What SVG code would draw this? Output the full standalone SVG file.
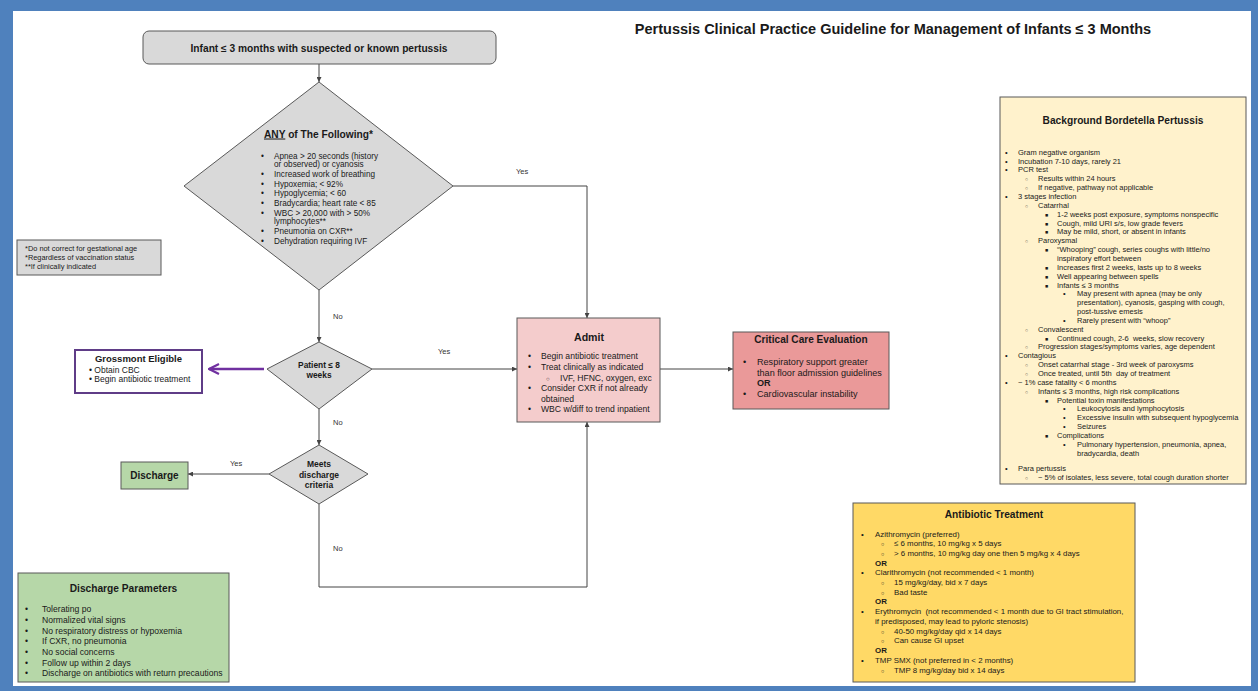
<svg xmlns="http://www.w3.org/2000/svg" width="1258" height="691" viewBox="0 0 1258 691">
<style>
text{font-family:"Liberation Sans",Arial,"DejaVu Sans",sans-serif;fill:#1a1a1a}
.b{font-weight:bold}
.c{text-anchor:middle}
.node{stroke:#595959;stroke-width:1}
.gray{fill:#d9d9d9}
.conn{fill:none;stroke:#444;stroke-width:1}
.lbl{font-size:7.5px;fill:#333}
.t8{font-size:8.2px}
.t86{font-size:8.6px}
.t75{font-size:7.5px}
.t79{font-size:7.9px}
.t91{font-size:9.1px}
.t74{font-size:7.4px}
.h{font-size:10.2px;font-weight:bold}
</style>
<defs>
<marker id="ah" viewBox="0 0 10 10" refX="10" refY="5" markerWidth="5" markerHeight="5" orient="auto" markerUnits="userSpaceOnUse"><path d="M0,0 L10,5 L0,10 z" fill="#444"/></marker>
<marker id="ap" viewBox="0 0 12 12" refX="11" refY="6" markerWidth="12" markerHeight="12" orient="auto" markerUnits="userSpaceOnUse"><path d="M1,1 L11,6 L1,11" fill="none" stroke="#7030a0" stroke-width="2.2"/></marker>
</defs>
<rect x="0" y="0" width="1258" height="691" fill="#4f81bd"/>
<rect x="13" y="11" width="1238" height="675" fill="#ffffff"/>

<text id="title" class="b c" x="893" y="34" font-size="14.5px">Pertussis Clinical Practice Guideline for Management of Infants ≤ 3 Months</text>

<g id="connectors">
<path class="conn" d="M319,64 V82" marker-end="url(#ah)"/>
<path class="conn" d="M453,186 H587 V318" marker-end="url(#ah)"/>
<path class="conn" d="M319,290 V342" marker-end="url(#ah)"/>
<path class="conn" d="M372,369 H517" marker-end="url(#ah)"/>
<path class="conn" d="M660,369 H733" marker-end="url(#ah)"/>
<path d="M264,369 H209" fill="none" stroke="#7030a0" stroke-width="2.5" marker-end="url(#ap)"/>
<path class="conn" d="M319,409 V445" marker-end="url(#ah)"/>
<path class="conn" d="M269,474 H188" marker-end="url(#ah)"/>
<path class="conn" d="M319,504 V587 H587 V422" marker-end="url(#ah)"/>
<text class="lbl" x="516" y="174">Yes</text>
<text class="lbl" x="333" y="319">No</text>
<text class="lbl" x="438" y="354">Yes</text>
<text class="lbl" x="333" y="425">No</text>
<text class="lbl" x="230" y="466">Yes</text>
<text class="lbl" x="333" y="551">No</text>
</g>

<g id="start">
<rect class="node gray" x="143" y="31" width="353" height="33" rx="6"/>
<text class="b c" x="319" y="51.5" font-size="10.2px">Infant ≤ 3 months with suspected or known pertussis</text>
</g>

<g id="any">
<path class="node gray" d="M319,82 L453,186 L319,290 L184,186 Z"/>
<text class="h c" x="318.5" y="137.5"><tspan text-decoration="underline">ANY</tspan> of The Following*</text>
<g class="t8">
<text x="261" y="158.5">•</text><text x="274" y="158.5">Apnea &gt; 20 seconds (history</text>
<text x="274" y="167">or observed) or cyanosis</text>
<text x="261" y="177">•</text><text x="274" y="177">Increased work of breathing</text>
<text x="261" y="186.5">•</text><text x="274" y="186.5">Hypoxemia; &lt; 92%</text>
<text x="261" y="196">•</text><text x="274" y="196">Hypoglycemia; &lt; 60</text>
<text x="261" y="206">•</text><text x="274" y="206">Bradycardia; heart rate &lt; 85</text>
<text x="261" y="215.5">•</text><text x="274" y="215.5">WBC &gt; 20,000 with &gt; 50%</text>
<text x="274" y="224">lymphocytes**</text>
<text x="261" y="234">•</text><text x="274" y="234">Pneumonia on CXR**</text>
<text x="261" y="243.5">•</text><text x="274" y="243.5">Dehydration requiring IVF</text>
</g>
</g>

<g id="notes">
<rect class="node gray" x="17" y="240" width="144" height="35"/>
<g class="t74">
<text x="25" y="251">*Do not correct for gestational age</text>
<text x="25" y="260">*Regardless of vaccination status</text>
<text x="25" y="268.5">**If clinically indicated</text>
</g>
</g>

<g id="patient">
<path class="node gray" d="M319,342 L372,369 L319,409 L267,369 Z"/>
<text class="b c" x="319" y="368" font-size="8.4px">Patient ≤ 8</text>
<text class="b c" x="319" y="377.5" font-size="8.4px">weeks</text>
</g>

<g id="grossmont">
<rect x="75" y="350" width="127" height="43" fill="#fff" stroke="#5f3c87" stroke-width="2"/>
<text class="b c" x="138.5" y="362" font-size="9.5px">Grossmont Eligible</text>
<text x="89" y="372.5" font-size="8.5px">• Obtain CBC</text>
<text x="89" y="382" font-size="8.5px">• Begin antibiotic treatment</text>
</g>

<g id="admit">
<rect class="node" x="517" y="318" width="143" height="104" fill="#f4cccc"/>
<text class="b c" x="589" y="341" font-size="10.6px">Admit</text>
<g class="t86">
<text x="528" y="358.7">•</text><text x="541" y="358.7">Begin antibiotic treatment</text>
<text x="528" y="369.7">•</text><text x="541" y="369.7">Treat clinically as indicated</text>
<text x="546" y="380.7" font-size="6px">○</text><text x="560" y="380.7">IVF, HFNC, oxygen, exc</text>
<text x="528" y="391.3">•</text><text x="541" y="391.3">Consider CXR if not already</text>
<text x="541" y="401.7">obtained</text>
<text x="528" y="412">•</text><text x="541" y="412">WBC w/diff to trend inpatient</text>
</g>
</g>

<g id="critical">
<rect class="node" x="733" y="332" width="156" height="77" fill="#ea9999"/>
<text class="b c" x="811" y="343" font-size="10.1px">Critical Care Evaluation</text>
<g class="t91">
<text x="743" y="365.3">•</text><text x="757" y="365.3">Respiratory support greater</text>
<text x="757" y="376.3">than floor admission guidelines</text>
<text class="b" x="757" y="386.3">OR</text>
<text x="743" y="397">•</text><text x="757" y="397">Cardiovascular instability</text>
</g>
</g>

<g id="meets">
<path class="node gray" d="M319,445 L368,474 L319,504 L269,474 Z"/>
<text class="b c" x="319" y="467" font-size="8.5px">Meets</text>
<text class="b c" x="319" y="477.5" font-size="8.5px">discharge</text>
<text class="b c" x="319" y="488" font-size="8.5px">criteria</text>
</g>

<g id="discharge">
<rect class="node" x="121" y="462" width="67" height="27" fill="#b6d7a8" stroke="#444"/>
<text class="b c" x="154.5" y="479" font-size="10px">Discharge</text>
</g>

<g id="params">
<rect class="node" x="18" y="573" width="211" height="109" fill="#b6d7a8"/>
<text class="h c" x="123.5" y="592">Discharge Parameters</text>
<g class="t86">
<text x="25" y="612">•</text><text x="42" y="612">Tolerating po</text>
<text x="25" y="622.5">•</text><text x="42" y="622.5">Normalized vital signs</text>
<text x="25" y="633.5">•</text><text x="42" y="633.5">No respiratory distress or hypoxemia</text>
<text x="25" y="644">•</text><text x="42" y="644">If CXR, no pneumonia</text>
<text x="25" y="655">•</text><text x="42" y="655">No social concerns</text>
<text x="25" y="665.5">•</text><text x="42" y="665.5">Follow up within 2 days</text>
<text x="25" y="676">•</text><text x="42" y="676">Discharge on antibiotics with return precautions</text>
</g>
</g>

<g id="antibiotic">
<rect class="node" x="853" y="503" width="282" height="179" fill="#ffd966"/>
<text class="h c" x="994" y="518">Antibiotic Treatment</text>
<g class="t79">
<text x="861" y="536.7">•</text><text x="875" y="536.7">Azithromycin (preferred)</text>
<text x="881" y="546.3" font-size="5.5px">○</text><text x="894" y="546.3">≤ 6 months, 10 mg/kg x 5 days</text>
<text x="881" y="555.7" font-size="5.5px">○</text><text x="894" y="555.7">&gt; 6 months, 10 mg/kg day one then 5 mg/kg x 4 days</text>
<text class="b" x="875" y="565.7">OR</text>
<text x="861" y="575.3">•</text><text x="875" y="575.3">Clarithromycin (not recommended &lt; 1 month)</text>
<text x="881" y="585" font-size="5.5px">○</text><text x="894" y="585">15 mg/kg/day, bid x 7 days</text>
<text x="881" y="594.7" font-size="5.5px">○</text><text x="894" y="594.7">Bad taste</text>
<text class="b" x="875" y="604.3">OR</text>
<text x="861" y="614.3">•</text><text x="875" y="614.3" xml:space="preserve">Erythromycin  (not recommended &lt; 1 month due to GI tract stimulation,</text>
<text x="875" y="624.3">if predisposed, may lead to pyloric stenosis)</text>
<text x="881" y="633.7" font-size="5.5px">○</text><text x="894" y="633.7">40-50 mg/kg/day qid x 14 days</text>
<text x="881" y="643.3" font-size="5.5px">○</text><text x="894" y="643.3">Can cause GI upset</text>
<text class="b" x="875" y="653.3">OR</text>
<text x="861" y="663">•</text><text x="875" y="663">TMP SMX (not preferred in &lt; 2 months)</text>
<text x="881" y="672.7" font-size="5.5px">○</text><text x="894" y="672.7">TMP 8 mg/kg/day bid x 14 days</text>
</g>
</g>

<g id="background">
<rect class="node" x="1000" y="97" width="246" height="387" fill="#fff2cc"/>
<text class="h c" x="1123" y="124">Background Bordetella Pertussis</text>
<g class="t75">
<text x="1005" y="154.7">•</text><text x="1018" y="154.7">Gram negative organism</text>
<text x="1005" y="163.6">•</text><text x="1018" y="163.6">Incubation 7-10 days, rarely 21</text>
<text x="1005" y="172.4">•</text><text x="1018" y="172.4">PCR test</text>
<text x="1025" y="181.3" font-size="5.2px">○</text><text x="1038" y="181.3">Results within 24 hours</text>
<text x="1025" y="190.1" font-size="5.2px">○</text><text x="1038" y="190.1">If negative, pathway not applicable</text>
<text x="1005" y="199">•</text><text x="1018" y="199">3 stages infection</text>
<text x="1025" y="207.8" font-size="5.2px">○</text><text x="1038" y="207.8">Catarrhal</text>
<text x="1045" y="216.7" font-size="5.2px">■</text><text x="1057" y="216.7">1-2 weeks post exposure, symptoms nonspecific</text>
<text x="1045" y="225.5" font-size="5.2px">■</text><text x="1057" y="225.5">Cough, mild URI s/s, low grade fevers</text>
<text x="1045" y="234.4" font-size="5.2px">■</text><text x="1057" y="234.4">May be mild, short, or absent in infants</text>
<text x="1025" y="243.2" font-size="5.2px">○</text><text x="1038" y="243.2">Paroxysmal</text>
<text x="1045" y="252.1" font-size="5.2px">■</text><text x="1057" y="252.1">“Whooping” cough, series coughs with little/no</text>
<text x="1057" y="260.9">inspiratory effort between</text>
<text x="1045" y="269.8" font-size="5.2px">■</text><text x="1057" y="269.8">Increases first 2 weeks, lasts up to 8 weeks</text>
<text x="1045" y="278.6" font-size="5.2px">■</text><text x="1057" y="278.6">Well appearing between spells</text>
<text x="1045" y="287.5" font-size="5.2px">■</text><text x="1057" y="287.5">Infants ≤ 3 months</text>
<text x="1063" y="296.3">•</text><text x="1077" y="296.3">May present with apnea (may be only</text>
<text x="1077" y="305.2">presentation), cyanosis, gasping with cough,</text>
<text x="1077" y="314">post-tussive emesis</text>
<text x="1063" y="322.9">•</text><text x="1077" y="322.9">Rarely present with “whoop”</text>
<text x="1025" y="331.7" font-size="5.2px">○</text><text x="1038" y="331.7">Convalescent</text>
<text x="1045" y="340.6" font-size="5.2px">■</text><text x="1057" y="340.6" xml:space="preserve">Continued cough, 2-6  weeks, slow recovery</text>
<text x="1025" y="349.4" font-size="5.2px">○</text><text x="1038" y="349.4">Progression stages/symptoms varies, age dependent</text>
<text x="1005" y="358.3">•</text><text x="1018" y="358.3">Contagious</text>
<text x="1025" y="367.1" font-size="5.2px">○</text><text x="1038" y="367.1">Onset catarrhal stage - 3rd week of paroxysms</text>
<text x="1025" y="376" font-size="5.2px">○</text><text x="1038" y="376" xml:space="preserve">Once treated, until 5th  day of treatment</text>
<text x="1005" y="384.8">•</text><text x="1018" y="384.8">~ 1% case fatality &lt; 6 months</text>
<text x="1025" y="393.7" font-size="5.2px">○</text><text x="1038" y="393.7">Infants ≤ 3 months, high risk complications</text>
<text x="1045" y="402.5" font-size="5.2px">■</text><text x="1057" y="402.5">Potential toxin manifestations</text>
<text x="1063" y="411.4">•</text><text x="1077" y="411.4">Leukocytosis and lymphocytosis</text>
<text x="1063" y="420.2">•</text><text x="1077" y="420.2">Excessive insulin with subsequent hypoglycemia</text>
<text x="1063" y="429.1">•</text><text x="1077" y="429.1">Seizures</text>
<text x="1045" y="437.9" font-size="5.2px">■</text><text x="1057" y="437.9">Complications</text>
<text x="1063" y="446.8">•</text><text x="1077" y="446.8">Pulmonary hypertension, pneumonia, apnea,</text>
<text x="1077" y="455.6">bradycardia, death</text>
<text x="1005" y="470.7">•</text><text x="1018" y="470.7">Para pertussis</text>
<text x="1025" y="479.5" font-size="5.2px">○</text><text x="1038" y="479.5">~ 5% of isolates, less severe, total cough duration shorter</text>
</g>
</g>
</svg>
